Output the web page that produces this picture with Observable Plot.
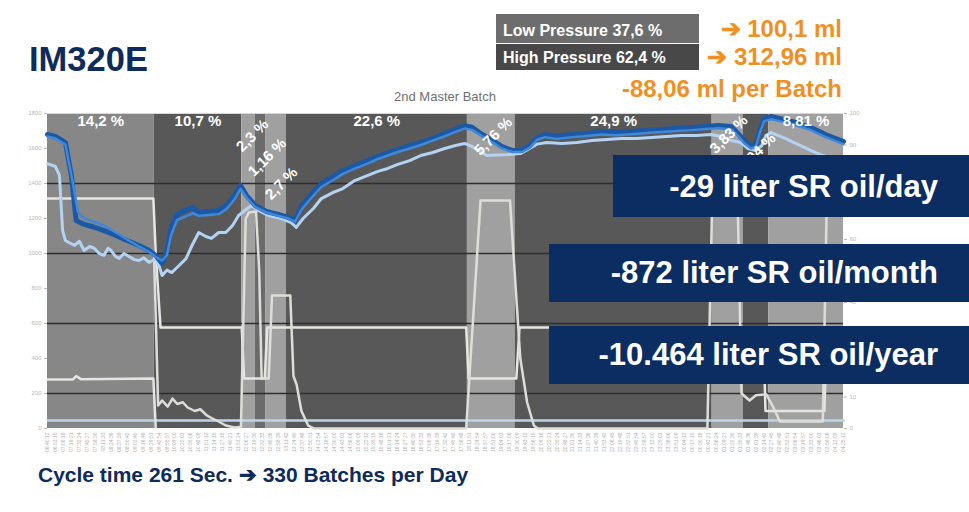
<!DOCTYPE html>
<html><head><meta charset="utf-8">
<script src="https://cdn.jsdelivr.net/npm/d3@7"></script>
<script src="https://cdn.jsdelivr.net/npm/@observablehq/plot@0.6"></script>
<style>
html,body{margin:0;padding:0;background:#fff;}
#wrap{position:relative;width:969px;height:512px;overflow:hidden;font-family:"Liberation Sans",Arial,sans-serif;}
#chart{position:absolute;left:0;top:0;}
.t{position:absolute;line-height:1;white-space:nowrap;font-weight:bold;}
.box{position:absolute;}
</style></head><body>
<div id="wrap">
<div id="chart"></div>
<div class="t" id="title" style="left:29px;top:41.8px;font-size:34.5px;color:#0d2b5b;"></div>
<div class="t" id="sub" style="left:445px;top:90px;font-size:13px;font-weight:normal;color:#707070;transform:translateX(-50%);"></div>
<div class="box" style="left:496px;top:14px;width:203px;height:29px;background:#6d6d6d;"><div class="t" id="low" style="left:7px;top:8.5px;font-size:16px;color:#fff;"></div></div>
<div class="box" style="left:496px;top:44px;width:203px;height:26px;background:#484848;"><div class="t" id="high" style="left:7px;top:5.5px;font-size:16px;color:#fff;"></div></div>
<div class="t" id="o1" style="right:127px;top:16.7px;font-size:24px;color:#f08f24;"></div>
<div class="t" id="o2" style="right:127px;top:44.7px;font-size:24px;color:#f08f24;"></div>
<div class="t" id="o3" style="right:127px;top:76.7px;font-size:24px;color:#f08f24;"></div>
<div class="box" style="left:613px;top:155px;width:356px;height:62px;background:#0b2d61;"><div class="t" id="b1" style="right:31px;top:15.8px;font-size:31px;color:#fff;"></div></div>
<div class="box" style="left:549px;top:244px;width:420px;height:58px;background:#0b2d61;"><div class="t" id="b2" style="right:31px;top:12.8px;font-size:31px;color:#fff;"></div></div>
<div class="box" style="left:549px;top:326px;width:420px;height:58px;background:#0b2d61;"><div class="t" id="b3" style="right:31px;top:12.8px;font-size:31px;color:#fff;"></div></div>
<div class="t" id="cap" style="left:38px;top:464.2px;font-size:21px;color:#0d2b5b;"></div>
</div>
<script>
// ---- texts ----
const titleText = "IM320E";
const subtitleText = "2nd Master Batch";
const pressureShares = ["Low Pressure 37,6 %", "High Pressure 62,4 %"];
const volumeTexts = ["➔ 100,1 ml", "➔ 312,96 ml", "-88,06 ml per Batch"];
const savingTexts = ["-29 liter SR oil/day", "-872 liter SR oil/month", "-10.464 liter SR oil/year"];
const captionText = "Cycle time 261 Sec. ➔ 330 Batches per Day";

// ---- bands (phases) ----
const bandEdges = [0, 13.4, 24.4, 26.1, 27.4, 30.0, 52.75, 58.75, 83.5, 87.4, 90.6, 100];
const bandShares = ["14,2 %", "10,7 %", "2,3 %", "1,16 %", "2,7 %", "22,6 %", "5,76 %", "24,9 %", "3,83 %", "3,04 %", "8,81 %"];
const bandTone = ["mid", "dark", "light", "dim", "light", "dark", "light", "dark", "light", "dark", "light"];

// ---- axis ticks ----
const leftTicks = [0, 200, 400, 600, 800, 1000, 1200, 1400, 1600, 1800];
const rightTickLabels = [0, 10, 40, 60, 90, 100]; // the others sit behind the blue boxes
const gridValues = [200, 600, 1000, 1400];

// ---- series [sample, value] ----
const blueDark = [[0,1680],[1,1669],[2.25,1634],[3,1446],[3.6,1189],[4.6,1166],[5.9,1150],[7.1,1131],[8.6,1103],[10,1074],[11.5,1046],[12.75,1017],[13.6,989],[14.4,943],[15,1017],[15.5,1143],[16.25,1223],[17.25,1246],[18.25,1263],[19,1234],[20.25,1240],[21.5,1246],[22.5,1274],[23.5,1331],[24.25,1389],[25,1331],[26.1,1274],[27.5,1240],[29,1223],[30.25,1206],[31.1,1189],[31.9,1269],[33,1331],[34.4,1400],[35.9,1440],[37.1,1474],[38.6,1503],[40.25,1531],[41.5,1554],[42.75,1577],[44,1594],[45.5,1617],[46.9,1634],[48.4,1657],[49.9,1686],[51.25,1709],[52.5,1731],[53.4,1720],[54.4,1686],[55.9,1646],[57.1,1611],[58.4,1589],[59.6,1589],[60.6,1617],[61.5,1663],[62.5,1680],[64,1669],[65.9,1680],[67.75,1686],[69.6,1697],[71.5,1691],[73.4,1697],[75.25,1703],[77.1,1709],[79,1714],[80.9,1720],[82.75,1726],[84.25,1731],[85.9,1726],[86.75,1686],[87.5,1646],[88.4,1611],[89,1623],[89.5,1703],[90,1771],[90.9,1783],[92.1,1771],[94,1749],[95.9,1720],[97.75,1680],[100,1640]];
const blueMid = [[0,1669],[1,1657],[2.25,1623],[3.2,1400],[3.8,1240],[4.6,1200],[5.9,1180],[7.1,1160],[8.6,1120],[10,1080],[11.5,1040],[12.75,1010],[13.6,980],[14.4,960],[15,990],[15.5,1100],[16.25,1190],[17.25,1210],[18.25,1230],[19,1215],[20.25,1220],[21.5,1225],[22.5,1255],[23.5,1310],[24.25,1370],[25,1320],[26.1,1265],[27.5,1235],[29,1215],[30.25,1200],[31.1,1180],[31.9,1250],[33,1310],[34.4,1380],[35.9,1420],[37.1,1455],[38.6,1485],[40.25,1515],[41.5,1540],[42.75,1560],[44,1580],[45.5,1600],[46.9,1620],[48.4,1645],[49.9,1670],[51.25,1695],[52.5,1715],[53.4,1705],[54.4,1675],[55.9,1635],[57.1,1600],[58.4,1580],[59.6,1580],[60.6,1605],[61.5,1650],[62.5,1665],[64,1655],[65.9,1665],[67.75,1672],[69.6,1680],[71.5,1676],[73.4,1682],[75.25,1688],[77.1,1694],[79,1700],[80.9,1705],[82.75,1712],[84.25,1716],[85.9,1710],[86.75,1672],[87.5,1632],[88.4,1600],[89,1612],[89.5,1690],[90,1755],[90.9,1768],[92.1,1755],[94,1733],[95.9,1705],[97.75,1665],[100,1625]];
const blueLight = [[0,1514],[1,1497],[1.5,1446],[1.9,1131],[2.25,1074],[2.8,1060],[3.4,1046],[4,1070],[4.6,1017],[5.3,1040],[5.9,1029],[6.5,1000],[7.1,989],[7.6,1030],[8,1017],[8.5,985],[9,971],[9.6,1000],[10.25,983],[10.9,965],[11.5,960],[12.1,975],[12.75,949],[13.2,960],[13.6,971],[14,931],[14.4,874],[15,905],[15.6,891],[16.5,930],[17.4,971],[18.2,1050],[19,1120],[19.9,1097],[20.6,1086],[21.5,1120],[22.4,1120],[23.25,1160],[24,1217],[25.6,1274],[26.5,1246],[27.75,1217],[29.4,1200],[30.6,1177],[31.25,1149],[32.1,1200],[33.4,1257],[34.4,1314],[35.9,1349],[37.1,1371],[38.6,1417],[40.25,1446],[41.5,1469],[42.75,1486],[44,1509],[45.5,1531],[46.9,1560],[48.4,1577],[49.9,1600],[51.25,1617],[52.4,1629],[53.4,1610],[55.2,1560],[57.75,1565],[59.4,1571],[61.5,1625],[62.75,1634],[64.6,1629],[66.5,1634],[68.4,1646],[70.25,1651],[72.1,1657],[74,1657],[75.9,1663],[77.75,1669],[79.6,1674],[81.5,1674],[83.4,1680],[84.6,1669],[85.9,1646],[87.1,1634],[88,1600],[89,1589],[89.75,1617],[90.25,1674],[90.9,1691],[92.75,1657],[94.6,1617],[96.5,1577],[98.4,1543],[100,1514]];
const whiteStep = [[0,1314],[13.3,1314],[13.6,1000],[14.2,577],[24.4,577],[24.7,286],[27.3,286],[27.6,577],[52.6,577],[52.9,286],[58.9,286],[59.3,577],[89.9,577],[90.2,100],[97.6,100],[97.9,577],[100,577]];
const whiteLow = [[0,280],[3.2,280],[3.6,300],[4.2,282],[13.3,286],[13.6,0]];
const whiteSpike = [[13.4,975],[13.9,131],[14.4,160],[15.1,125],[15.7,171],[16.3,140],[17,150],[17.6,120],[18.5,100],[19.2,110],[20,75],[20.6,60],[21.5,40],[22.4,17],[23.5,6],[24.3,10],[24.9,1200],[25.3,1234],[26.2,1240],[26.6,900],[26.9,286],[27.8,286],[28.2,760],[30.5,760],[30.9,300],[31.3,250],[31.9,100],[32.75,17],[33.5,0],[52.6,0],[54.4,1303],[58.1,1303],[59.4,400],[60.25,150],[61.1,17],[61.6,0],[82.9,0],[83.5,1300],[86.7,1300],[87.2,200],[88.2,160],[89,190],[90.3,195],[91.2,120],[92,40],[97.4,40],[97.9,1300],[100,1300]];
const baseFlow = [[0,46],[100,46]];

// ---- fill texts ----
document.getElementById("title").textContent = titleText;
document.getElementById("sub").textContent = subtitleText;
document.getElementById("low").textContent = pressureShares[0];
document.getElementById("high").textContent = pressureShares[1];
["o1","o2","o3"].forEach((id,i)=>document.getElementById(id).textContent = volumeTexts[i]);
["b1","b2","b3"].forEach((id,i)=>document.getElementById(id).textContent = savingTexts[i]);
document.getElementById("cap").textContent = captionText;

// ---- build tables ----
const bands = bandShares.map((label, i) => ({x1: bandEdges[i], x2: bandEdges[i+1], label, tone: bandTone[i]}));
// layout: rotated label anchors for the narrow phases
const rotatedAnchor = {2:[25.75,1674], 3:[27.6,1549], 4:[29.4,1400], 6:[56.0,1669], 8:[85.6,1680], 9:[89.1,1577]};
const flatLabels = bands.filter((d,i) => !(i in rotatedAnchor)).map(d => ({x:(d.x1+d.x2)/2, y:1754, label:d.label}));
const rotLabels = bands.map((d,i)=>i).filter(i => i in rotatedAnchor).map(i => ({x: rotatedAnchor[i][0], y: rotatedAnchor[i][1], label: bands[i].label}));

const fmtTime = i => {
  const s = 6*3600 + 40*60 + 12 + i*783;
  const h = Math.floor(s/3600)%24, m = Math.floor(s/60)%60, ss = s%60;
  return [h,m,ss].map(v => String(v).padStart(2,"0")).join(":");
};
const X = d => d[0], Y = d => d[1];

const chart = Plot.plot({
  width: 969, height: 512,
  marginLeft: 47, marginRight: 126, marginTop: 113, marginBottom: 84,
  style: {background: "transparent", fontFamily: "Liberation Sans, Arial, sans-serif"},
  x: {domain: [0, 100]},
  y: {domain: [0, 1800]},
  color: {domain: ["mid","dark","light","dim"], range: ["#878787","#585858","#a0a0a0","#6b6b6b"]},
  marks: [
    Plot.rect(bands, {x1: "x1", x2: "x2", y1: 0, y2: 1800, fill: "tone"}),
    Plot.ruleY(gridValues, {stroke: "#2e2e2e", strokeWidth: 1.5}),
    Plot.ruleY([1800], {stroke: "#d8d8d8", strokeWidth: 1}),
    Plot.line(baseFlow, {x: X, y: Y, stroke: "#bcd3ec", strokeWidth: 2.5}),
    Plot.line(whiteLow, {x: X, y: Y, stroke: "#e6e6e0", strokeWidth: 2.5}),
    Plot.line(whiteStep, {x: X, y: Y, stroke: "#e6e6e0", strokeWidth: 2.5}),
    Plot.line(whiteSpike, {x: X, y: Y, stroke: "#deded8", strokeWidth: 2.5}),
    Plot.line(blueLight, {x: X, y: Y, stroke: "#b4d2f2", strokeWidth: 3}),
    Plot.line(blueDark, {x: X, y: Y, stroke: "#1b58a6", strokeWidth: 5}),
    Plot.line(blueMid, {x: X, y: Y, stroke: "#3f88da", strokeWidth: 2.5}),
    Plot.text(flatLabels, {x: "x", y: "y", text: "label", fill: "#fff", fontSize: 15, fontWeight: "bold"}),
    Plot.text(rotLabels, {x: "x", y: "y", text: "label", fill: "#fff", fontSize: 15, fontWeight: "bold", rotate: -45}),
    Plot.axisY({anchor: "left", ticks: leftTicks, tickFormat: d => String(d), tickSize: 3, tickPadding: 3, fontSize: 6, color: "#b8b8b8", label: null}),
    Plot.axisY({anchor: "right", ticks: rightTickLabels.map(v => v*18), tickFormat: d => String(Math.round(d/18)), tickSize: 3, tickPadding: 3, fontSize: 6, color: "#b8b8b8", label: null}),
    Plot.axisX({ticks: d3.range(0, 101, 1), tickFormat: fmtTime, tickRotate: -90, tickSize: 0, tickPadding: 4, fontSize: 5, color: "#b0b0b0", label: null})
  ]
});
document.getElementById("chart").appendChild(chart);
</script>
</body></html>
